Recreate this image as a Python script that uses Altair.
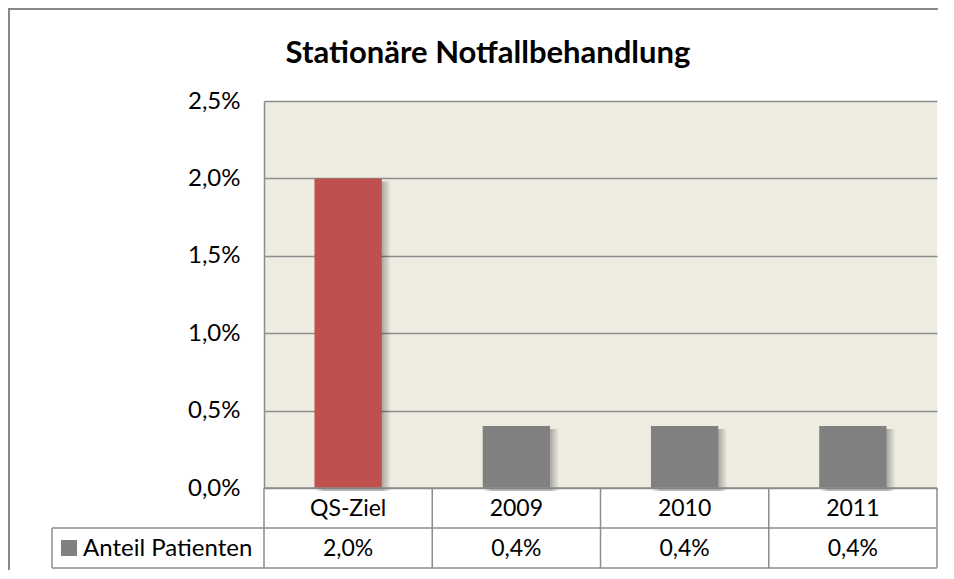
import altair as alt
import pandas as pd

# ---- data ----
categories = ["QS-Ziel", "2009", "2010", "2011"]
values = [0.020, 0.004, 0.004, 0.004]
bar_colors = ["#C0504D", "#808080", "#808080", "#808080"]
series_name = "Anteil Patienten"
title_text = "Stationäre Notfallbehandlung"
y_ticks = [0.0, 0.005, 0.010, 0.015, 0.020, 0.025]

# ---- layout ----
W, H = 673, 387
ROW = 40
LEG_X = -212
PAD_L, PAD_T, PAD_R, PAD_B = 256, 93, 1, 82
FONT = "Lato"
LINE = "#8C8C8C"

df = pd.DataFrame({"cat": categories, "val": values, "color": bar_colors})
df["label"] = df["val"].map(lambda v: f"{v * 100:.1f}%".replace(".", ","))

xscale = alt.Scale(domain=categories, paddingInner=0.6, paddingOuter=0.3)
yscale = alt.Scale(domain=[0, 0.025], nice=False, zero=True)
X = alt.X("cat:N", sort=categories, scale=xscale, axis=None)
Y_none = alt.Y("val:Q", scale=yscale, axis=None)

base = alt.Chart(df)

bars_axis = base.mark_bar(opacity=0).encode(
    x=X,
    y=alt.Y(
        "val:Q",
        scale=yscale,
        axis=alt.Axis(
            values=y_ticks,
            labelExpr="replace(format(datum.value, '.1%'), '.', ',')",
            title=None,
            ticks=False,
            labelPadding=24,
            labelFont=FONT,
            labelFontSize=24,
            labelColor="#000000",
            domainColor=LINE,
            domainWidth=1.5,
            grid=True,
            gridColor=LINE,
            gridWidth=1.5,
        ),
    ),
)

shadows = [
    base.mark_bar(color="#000000", opacity=0.07, xOffset=o, yOffset=3)
    .encode(x=X, y=Y_none)
    for o in (2, 4, 6, 8)
]

bars = base.mark_bar().encode(
    x=X, y=Y_none, color=alt.Color("color:N", scale=None, legend=None)
)

# table lines (pixel layout)
segs = []
segs.append((0, H, W, H))
segs.append((LEG_X, H + ROW, W, H + ROW))
segs.append((LEG_X, H + 2 * ROW, W, H + 2 * ROW))
n = len(categories)
for i in range(n + 1):
    xx = i * W / n
    segs.append((xx, H, xx, H + 2 * ROW))
segs.append((LEG_X, H + ROW, LEG_X, H + 2 * ROW))
lines_df = pd.DataFrame(segs, columns=["x", "y", "x2", "y2"])
table_lines = alt.Chart(lines_df).mark_rule(color=LINE, strokeWidth=1.5).encode(
    x=alt.X("x:Q", scale=None, axis=None),
    y=alt.Y("y:Q", scale=None, axis=None),
    x2="x2:Q",
    y2="y2:Q",
)

# outer frame (top and left)
frame_df = pd.DataFrame(
    [(-PAD_L, -PAD_T + 1, W + PAD_R, -PAD_T + 1), (-PAD_L + 1, -PAD_T, -PAD_L + 1, H + PAD_B)],
    columns=["x", "y", "x2", "y2"],
)
frame = alt.Chart(frame_df).mark_rule(color="#888888", strokeWidth=2).encode(
    x=alt.X("x:Q", scale=None, axis=None),
    y=alt.Y("y:Q", scale=None, axis=None),
    x2="x2:Q",
    y2="y2:Q",
)

cat_text = base.mark_text(font=FONT, fontSize=23, color="#000000", baseline="middle").encode(
    x=X, y=alt.value(H + ROW / 2 + 1), text="cat:N"
)
val_text = base.mark_text(font=FONT, fontSize=23, color="#000000", baseline="middle").encode(
    x=X, y=alt.value(H + ROW * 1.5 + 1), text="label:N"
)

one = alt.Chart(pd.DataFrame({"name": [series_name], "title": [title_text]}))
legend_sq = one.mark_rect(color="#808080").encode(
    x=alt.value(LEG_X + 9), x2=alt.value(LEG_X + 25),
    y=alt.value(H + ROW + 12), y2=alt.value(H + ROW + 28),
)
legend_txt = one.mark_text(
    font=FONT, fontSize=24, color="#000000", align="left", baseline="middle"
).encode(x=alt.value(LEG_X + 31), y=alt.value(H + ROW * 1.5 + 1), text="name:N")

title = one.mark_text(
    font=FONT, fontSize=31, fontWeight="bold", color="#000000", align="center", baseline="alphabetic"
).encode(x=alt.value(224), y=alt.value(-38), text="title:N")

chart = (
    alt.layer(bars_axis, *shadows, bars, table_lines, frame, cat_text, val_text, legend_sq, legend_txt, title)
    .resolve_scale(x="independent", y="independent")
    .properties(
        width=W,
        height=H,
        autosize=alt.AutoSizeParams(type="none"),
        padding={"left": PAD_L, "top": PAD_T, "right": PAD_R, "bottom": PAD_B},
        background="#FFFFFF",
    )
    .configure_view(fill="#EEECE1", stroke=None)
)

chart.save("out.html", embed_options={"renderer": "svg", "actions": False})
